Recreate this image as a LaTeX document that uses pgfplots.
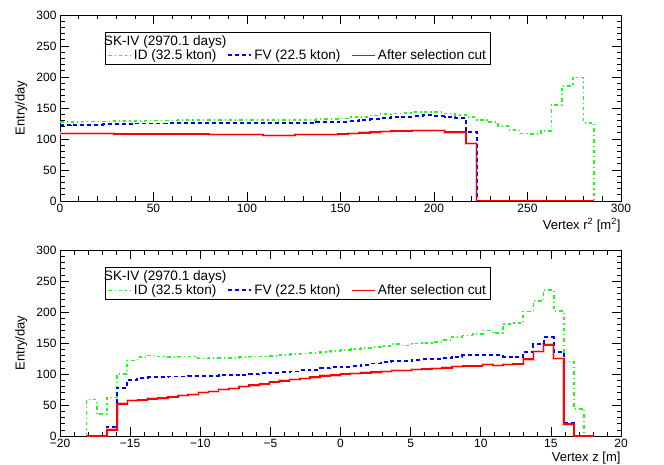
\documentclass[border=0pt]{standalone}
\usepackage{fontspec}
\setmainfont{Liberation Sans}
\usepackage{pgfplots}
\pgfplotsset{compat=1.18}

\definecolor{rgreen}{rgb}{0.1,1,0.1}
\pgfplotsset{
  skstyle/.style={
    scale only axis, width=561pt, height=186pt,
    ymin=0, ymax=300, ytick={0,50,...,300}, minor y tick num=4,
    tick align=inside, major tick length=9pt, minor tick length=4.5pt,
    tick style={black, line width=0.6pt},
    axis line style={line width=0.8pt},
    ticklabel style={font=\fontsize{12}{14}\selectfont},
    /pgf/number format/assume math mode=true,
    ylabel={Entry/day},
    every axis y label/.style={at={(axis description cs:-0.069,0.5)}, rotate=90, anchor=center, font=\fontsize{13}{15}\selectfont},
    every axis x label/.style={at={(axis description cs:1,0)}, anchor=north east, yshift=-14pt, xshift=3pt, font=\fontsize{13}{15}\selectfont},
    legend style={at={(axis description cs:0.080,0.909)}, anchor=north west, draw=black, line width=0.8pt,
      font=\fontsize{13.6}{16}\selectfont, inner xsep=2pt, inner ysep=1pt, row sep=-1pt,
      /tikz/every even column/.append style={column sep=9pt}},
    legend columns=3, legend cell align=left,
    legend image code/.code={\draw[#1] (0pt,0pt) -- (23pt,0pt);},
  },
  idline/.style={rgreen, line width=1.7pt, dash pattern=on 3.5pt off 3pt on 1.2pt off 3pt},
  fvline/.style={blue, line width=1.9pt, dash pattern=on 4pt off 3pt},
  selband/.style={red!25, line width=2.8pt},
  selline/.style={red, line width=1.5pt},
}

\begin{document}
\begin{tikzpicture}
\path[use as bounding box] (0,0) rectangle (664pt,464pt);
% ---------- top panel ----------
\begin{axis}[skstyle, at={(60pt,263pt)}, anchor=south west,
  xmin=0, xmax=300, xtick={0,50,...,300}, minor x tick num=4,
  xlabel={Vertex r\textsuperscript{2} [m\textsuperscript{2}]}]
\addlegendimage{empty legend}
\addlegendentry{\makebox[0pt][l]{\hspace*{-30pt}SK-IV (2970.1 days)}}
\addlegendimage{empty legend}
\addlegendentry{}
\addlegendimage{empty legend}
\addlegendentry{}
\addplot[selband, forget plot] coordinates {(0,109) (28.561,109) (28.561,108) (79.971,108) (79.971,107) (108.532,107) (108.532,106) (125.668,106) (125.668,107) (148.517,107) (148.517,108) (154.229,108) (154.229,109) (159.942,109) (159.942,110) (165.654,110) (165.654,111) (171.366,111) (171.366,112) (177.078,112) (177.078,113) (188.503,113) (188.503,114) (205.639,114) (205.639,111) (217.064,111) (217.064,93) (222.776,93) (222.776,0) (285.610,0)};
\addplot[idline] coordinates {(0,127) (11.424,127) (11.424,128) (28.561,128) (28.561,129) (45.698,129) (45.698,130) (62.834,130) (62.834,131) (137.093,131) (137.093,132) (148.517,132) (148.517,133) (154.229,133) (154.229,135) (159.942,135) (159.942,136) (165.654,136) (165.654,138) (171.366,138) (171.366,140) (177.078,140) (177.078,141) (182.790,141) (182.790,142) (188.503,142) (188.503,143) (194.215,143) (194.215,144) (199.927,144) (199.927,143) (205.639,143) (205.639,141) (211.351,141) (211.351,139) (217.064,139) (217.064,135) (222.776,135) (222.776,131) (228.488,131) (228.488,127) (234.200,127) (234.200,121) (239.912,121) (239.912,115) (245.625,115) (245.625,109) (251.337,109) (251.337,108) (257.049,108) (257.049,113) (262.761,113) (262.761,155) (268.473,155) (268.473,186) (274.186,186) (274.186,199) (279.898,199) (279.898,126) (285.610,126) (285.610,0)};
\addlegendentry{ID (32.5 kton)}
\addplot[fvline] coordinates {(0,122) (5.712,122) (5.712,123) (22.849,123) (22.849,124) (39.985,124) (39.985,125) (57.122,125) (57.122,126) (137.093,126) (137.093,127) (148.517,127) (148.517,128) (154.229,128) (154.229,129) (159.942,129) (159.942,131) (165.654,131) (165.654,132) (171.366,132) (171.366,134) (177.078,134) (177.078,135) (182.790,135) (182.790,136) (188.503,136) (188.503,137) (194.215,137) (194.215,138) (199.927,138) (199.927,137) (205.639,137) (205.639,136) (211.351,136) (211.351,134) (217.064,134) (217.064,112) (222.776,112) (222.776,0) (285.610,0)};
\addlegendentry{FV (22.5 kton)}
\addplot[selline] coordinates {(0,109) (28.561,109) (28.561,108) (79.971,108) (79.971,107) (108.532,107) (108.532,106) (125.668,106) (125.668,107) (148.517,107) (148.517,108) (154.229,108) (154.229,109) (159.942,109) (159.942,110) (165.654,110) (165.654,111) (171.366,111) (171.366,112) (177.078,112) (177.078,113) (188.503,113) (188.503,114) (205.639,114) (205.639,111) (217.064,111) (217.064,93) (222.776,93) (222.776,0) (285.610,0)};
\addlegendentry{After selection cut}
\end{axis}
% ---------- bottom panel ----------
\begin{axis}[skstyle, at={(60pt,28pt)}, anchor=south west,
  xmin=-20, xmax=20, xtick={-20,-15,...,20}, minor x tick num=4,
  xticklabels={−20,−15,−10,−5,0,5,10,15,20},
  xlabel={Vertex z [m]}, every axis x label/.append style={yshift=1pt}]
\addlegendimage{empty legend}
\addlegendentry{\makebox[0pt][l]{\hspace*{-30pt}SK-IV (2970.1 days)}}
\addlegendimage{empty legend}
\addlegendentry{}
\addlegendimage{empty legend}
\addlegendentry{}
\addplot[selband, forget plot] coordinates {(-18.1,0) (-16.652,0) (-16.652,10) (-15.928,10) (-15.928,52) (-15.204,52) (-15.204,57) (-14.480,57) (-14.480,58) (-13.756,58) (-13.756,60) (-13.032,60) (-13.032,61) (-12.308,61) (-12.308,63) (-11.584,63) (-11.584,65) (-10.860,65) (-10.860,67) (-10.136,67) (-10.136,70) (-9.412,70) (-9.412,72) (-8.688,72) (-8.688,75) (-7.964,75) (-7.964,77) (-7.240,77) (-7.240,80) (-6.516,80) (-6.516,82) (-5.792,82) (-5.792,84) (-5.068,84) (-5.068,87) (-4.344,87) (-4.344,89) (-3.620,89) (-3.620,91) (-2.896,91) (-2.896,93) (-2.172,93) (-2.172,95) (-1.448,95) (-1.448,97) (-0.724,97) (-0.724,98) (0,98) (0,100) (0.724,100) (0.724,101) (1.448,101) (1.448,102) (2.172,102) (2.172,103) (2.896,103) (2.896,104) (3.620,104) (3.620,106) (5.068,106) (5.068,107) (5.792,107) (5.792,108) (6.516,108) (6.516,109) (7.240,109) (7.240,110) (7.964,110) (7.964,112) (8.688,112) (8.688,113) (10.136,113) (10.136,115) (10.860,115) (10.860,114) (11.584,114) (11.584,115) (12.308,115) (12.308,116) (13.032,116) (13.032,124) (13.756,124) (13.756,136) (14.480,136) (14.480,147) (15.204,147) (15.204,125) (15.928,125) (15.928,19) (16.652,19) (16.652,0) (18.1,0)};
\addplot[idline] coordinates {(-18.1,0) (-18.1,59) (-17.376,59) (-17.376,35) (-16.652,35) (-16.652,62) (-15.928,62) (-15.928,100) (-15.204,100) (-15.204,122) (-14.480,122) (-14.480,127) (-13.756,127) (-13.756,130) (-13.032,130) (-13.032,128) (-12.308,128) (-12.308,127) (-11.584,127) (-11.584,128) (-10.136,128) (-10.136,125) (-9.412,125) (-9.412,126) (-7.240,126) (-7.240,127) (-6.516,127) (-6.516,128) (-5.068,128) (-5.068,129) (-4.344,129) (-4.344,131) (-3.620,131) (-3.620,132) (-2.896,132) (-2.896,133) (-2.172,133) (-2.172,134) (-1.448,134) (-1.448,135) (-0.724,135) (-0.724,137) (0,137) (0,139) (0.724,139) (0.724,140) (1.448,140) (1.448,142) (2.172,142) (2.172,143) (2.896,143) (2.896,145) (3.620,145) (3.620,148) (4.344,148) (4.344,146) (5.068,146) (5.068,149) (5.792,149) (5.792,150) (6.516,150) (6.516,152) (7.240,152) (7.240,155) (7.964,155) (7.964,160) (8.688,160) (8.688,162) (9.412,162) (9.412,164) (10.136,164) (10.136,170) (10.860,170) (10.860,166) (11.584,166) (11.584,181) (12.308,181) (12.308,182) (13.032,182) (13.032,201) (13.756,201) (13.756,218) (14.480,218) (14.480,236) (15.204,236) (15.204,202) (15.928,202) (15.928,120) (16.652,120) (16.652,44) (17.376,44) (17.376,0) (18.1,0)};
\addlegendentry{ID (32.5 kton)}
\addplot[fvline] coordinates {(-18.1,0) (-16.652,0) (-16.652,15) (-15.928,15) (-15.928,78) (-15.204,78) (-15.204,91) (-14.480,91) (-14.480,94) (-13.756,94) (-13.756,95) (-12.308,95) (-12.308,96) (-10.860,96) (-10.860,97) (-8.688,97) (-8.688,98) (-7.240,98) (-7.240,99) (-6.516,99) (-6.516,100) (-5.792,100) (-5.792,101) (-5.068,101) (-5.068,102) (-4.344,102) (-4.344,103) (-3.620,103) (-3.620,104) (-2.896,104) (-2.896,106) (-2.172,106) (-2.172,107) (-1.448,107) (-1.448,109) (-0.724,109) (-0.724,111) (0,111) (0,112) (0.724,112) (0.724,113) (1.448,113) (1.448,115) (2.172,115) (2.172,117) (2.896,117) (2.896,119) (3.620,119) (3.620,121) (5.068,121) (5.068,123) (5.792,123) (5.792,124) (7.240,124) (7.240,126) (7.964,126) (7.964,128) (8.688,128) (8.688,130) (11.584,130) (11.584,128) (12.308,128) (12.308,127) (13.032,127) (13.032,136) (13.756,136) (13.756,148) (14.480,148) (14.480,159) (15.204,159) (15.204,136) (15.928,136) (15.928,21) (16.652,21) (16.652,0) (18.1,0)};
\addlegendentry{FV (22.5 kton)}
\addplot[selline] coordinates {(-18.1,0) (-16.652,0) (-16.652,10) (-15.928,10) (-15.928,52) (-15.204,52) (-15.204,57) (-14.480,57) (-14.480,58) (-13.756,58) (-13.756,60) (-13.032,60) (-13.032,61) (-12.308,61) (-12.308,63) (-11.584,63) (-11.584,65) (-10.860,65) (-10.860,67) (-10.136,67) (-10.136,70) (-9.412,70) (-9.412,72) (-8.688,72) (-8.688,75) (-7.964,75) (-7.964,77) (-7.240,77) (-7.240,80) (-6.516,80) (-6.516,82) (-5.792,82) (-5.792,84) (-5.068,84) (-5.068,87) (-4.344,87) (-4.344,89) (-3.620,89) (-3.620,91) (-2.896,91) (-2.896,93) (-2.172,93) (-2.172,95) (-1.448,95) (-1.448,97) (-0.724,97) (-0.724,98) (0,98) (0,100) (0.724,100) (0.724,101) (1.448,101) (1.448,102) (2.172,102) (2.172,103) (2.896,103) (2.896,104) (3.620,104) (3.620,106) (5.068,106) (5.068,107) (5.792,107) (5.792,108) (6.516,108) (6.516,109) (7.240,109) (7.240,110) (7.964,110) (7.964,112) (8.688,112) (8.688,113) (10.136,113) (10.136,115) (10.860,115) (10.860,114) (11.584,114) (11.584,115) (12.308,115) (12.308,116) (13.032,116) (13.032,124) (13.756,124) (13.756,136) (14.480,136) (14.480,147) (15.204,147) (15.204,125) (15.928,125) (15.928,19) (16.652,19) (16.652,0) (18.1,0)};
\addlegendentry{After selection cut}
\end{axis}
\end{tikzpicture}
\end{document}
